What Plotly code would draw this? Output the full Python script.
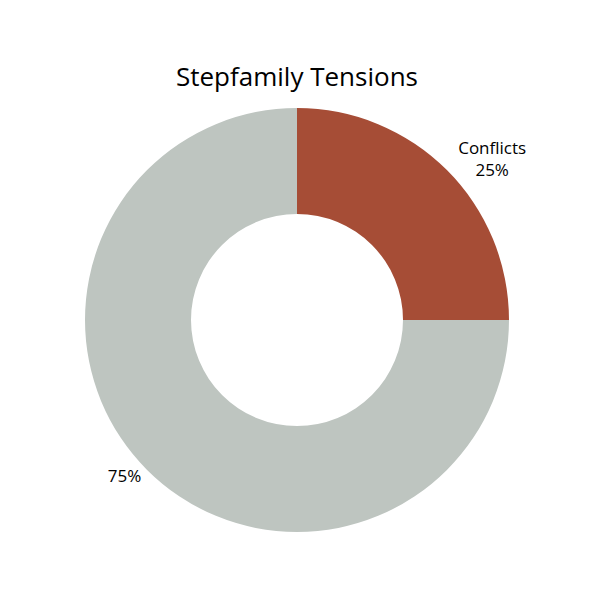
import plotly.graph_objects as pg

labels = ["Conflicts", "Other"]
values = [25, 75]
colors = ["#A64D36", "#BEC5C0"]
templates = ["%{label}<br>%{percent}", "%{percent}"]

fig = pg.Figure()
fig.add_trace(pg.Pie(
    labels=labels,
    values=values,
    hole=0.5,
    sort=False,
    direction="clockwise",
    texttemplate=templates,
    textposition="outside",
    marker=dict(colors=colors, line=dict(width=0)),
    textfont=dict(size=17, color="black", family="Open Sans"),
    showlegend=False,
    automargin=False,
))

# page has an 8px body margin, so shift everything back by 8
fig.update_layout(
    width=600, height=600,
    title=dict(text="Stepfamily Tensions", x=289 / 600, xanchor="center",
               y=1 - 69 / 600, yanchor="middle", yref="container",
               font=dict(size=26, color="black", family="Open Sans")),
    margin=dict(l=77, r=99, t=100, b=76),
    paper_bgcolor="white",
    plot_bgcolor="white",
)

fig.write_html("out.html")
